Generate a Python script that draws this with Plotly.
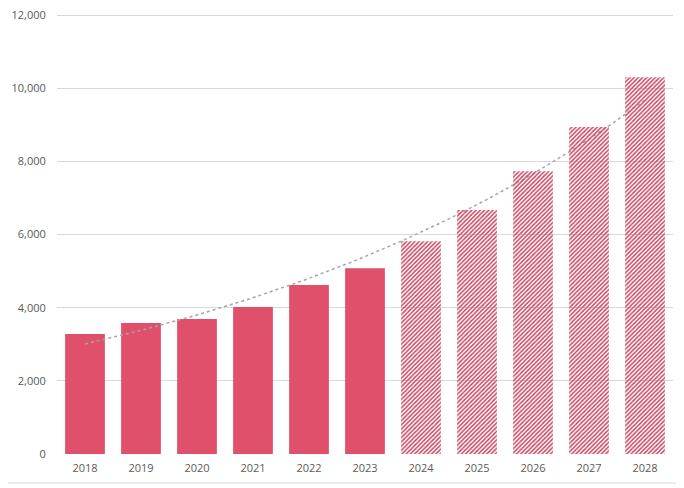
import numpy as np
import plotly.graph_objects as go

actual_years = [2018, 2019, 2020, 2021, 2022, 2023]
actual_values = [3280, 3580, 3690, 4020, 4620, 5080]
forecast_years = [2024, 2025, 2026, 2027, 2028]
forecast_values = [5820, 6670, 7730, 8940, 10300]
y_ticks = [0, 2000, 4000, 6000, 8000, 10000, 12000]

all_years = np.array(actual_years + forecast_years, dtype=float)
all_values = np.array(actual_values + forecast_values, dtype=float)
# exponential trendline fitted to the data (as in the source chart)
b, a = np.polyfit(all_years - all_years[0], np.log(all_values), 1)
tx = np.linspace(all_years[0], all_years[-1], 200)
ty = np.exp(a + b * (tx - all_years[0]))

RED = "#E0506A"
fig = go.Figure()
fig.add_trace(go.Bar(x=actual_years, y=actual_values, width=0.71,
                     marker=dict(color=RED, line=dict(width=0)), zorder=0))
fig.add_trace(go.Scatter(x=tx, y=ty, mode="lines",
                         line=dict(color="#A6A6A6", width=1.5, dash="dot"),
                         zorder=1))
fig.add_trace(go.Bar(x=forecast_years, y=forecast_values, width=0.71,
                     marker=dict(color="rgba(0,0,0,0)", line=dict(width=0),
                                 pattern=dict(shape="/", size=3, solidity=0.5,
                                              fgcolor="#C94662", fgopacity=1,
                                              bgcolor="rgba(0,0,0,0)",
                                              fillmode="overlay")),
                     zorder=2))

# page has an 8px body margin; figure covers page pixels 8..684 x 8..488
W, H = 676, 480
ml, mr, mt, mb = 49, 11, 6, 34
pw, ph = W - ml - mr, H - mt - mb
YMAX = 12030
fig.update_layout(
    width=W, height=H, margin=dict(l=ml, r=mr, t=mt, b=mb),
    paper_bgcolor="white", plot_bgcolor="white", showlegend=False,
    barmode="overlay",
    font=dict(family="Open Sans, Noto Sans, sans-serif", size=11, color="#595959"),
    xaxis=dict(range=[2017.5, 2028.5], tickvals=list(all_years.astype(int)),
               ticktext=[str(int(y)) for y in all_years], showgrid=False,
               zeroline=False, showline=True, linecolor="#D9D9D9", linewidth=1,
               ticks="outside", ticklen=4, tickcolor="rgba(0,0,0,0)",
               automargin=False, ticklabeloverflow="allow"),
    yaxis=dict(range=[0, YMAX], tickvals=y_ticks, tickformat=",",
               showgrid=True, gridcolor="#D9D9D9", gridwidth=1, zeroline=False,
               showline=False, ticks="outside", ticklen=8, tickcolor="rgba(0,0,0,0)",
               automargin=False, ticklabeloverflow="allow"),
    shapes=[dict(type="rect", xref="paper", yref="paper",
                 x0=(-20 - ml) / pw, x1=(673 - ml) / pw,
                 y0=(H - mb - 475) / ph, y1=(H - mb + 20) / ph,
                 line=dict(color="#D9D9D9", width=1), fillcolor="rgba(0,0,0,0)",
                 layer="below")],
)
fig.write_html("out.html")
